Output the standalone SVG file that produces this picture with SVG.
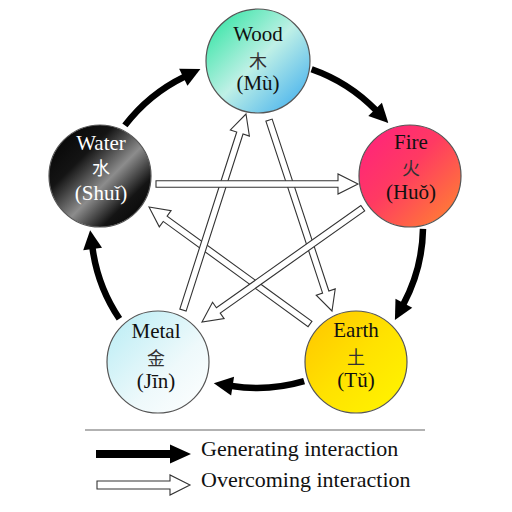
<svg xmlns="http://www.w3.org/2000/svg" width="512" height="512" viewBox="0 0 512 512">
<defs>
<linearGradient id="gWood" x1="0" y1="0" x2="1" y2="1"><stop offset="0" stop-color="#1fe39a"/><stop offset="0.5" stop-color="#bff0e6"/><stop offset="1" stop-color="#34a8ef"/></linearGradient>
<linearGradient id="gFire" x1="0" y1="0" x2="1" y2="1"><stop offset="0" stop-color="#ff1f80"/><stop offset="0.45" stop-color="#ff3a62"/><stop offset="1" stop-color="#ff8a2c"/></linearGradient>
<linearGradient id="gWater" x1="0" y1="0" x2="1" y2="1"><stop offset="0" stop-color="#000"/><stop offset="0.32" stop-color="#141414"/><stop offset="0.56" stop-color="#8c8c8c"/><stop offset="0.76" stop-color="#141414"/><stop offset="1" stop-color="#000"/></linearGradient>
<linearGradient id="gMetal" x1="0" y1="0" x2="1" y2="1"><stop offset="0" stop-color="#b6ecf4"/><stop offset="0.6" stop-color="#eef9fb"/><stop offset="1" stop-color="#ffffff"/></linearGradient>
<linearGradient id="gEarth" x1="0" y1="0" x2="1" y2="1"><stop offset="0" stop-color="#ffc400"/><stop offset="0.5" stop-color="#ffe200"/><stop offset="0.85" stop-color="#fff000"/><stop offset="1" stop-color="#ffe600"/></linearGradient>
<marker id="head" markerUnits="userSpaceOnUse" markerWidth="22" markerHeight="22" viewBox="-2 -11 22 22" refX="0" refY="0" orient="auto"><path d="M-1,-9.5 L18,0 L-1,9.5 Z" fill="#000"/></marker>
<style>
.node{stroke:#555;stroke-width:1.2}
.lab{font-family:"Liberation Serif",serif;font-size:21px;text-anchor:middle;fill:#111}
.cjk{font-family:"Noto Sans CJK SC",sans-serif;font-size:18px;text-anchor:middle;fill:#333}
.white{fill:#fff}
.gen{fill:none;stroke:#000;stroke-width:6.5;marker-end:url(#head)}
.ovc{fill:#fff;stroke:#333;stroke-width:1.1;stroke-linejoin:miter}
.leg{font-family:"Liberation Serif",serif;font-size:22px;fill:#111}
</style>
</defs>
<rect width="512" height="512" fill="#fff"/>
<g id="connectors">
<path class="gen" d="M124.9,125.4 A166,166 0 0 1 184.2,76.8"/>
<path class="gen" d="M311.6,69.2 A166,166 0 0 1 375.8,110.1"/>
<path class="gen" d="M423,228.9 A166,166 0 0 1 403.4,304.2"/>
<path class="gen" d="M304.1,381.2 A166,166 0 0 1 231.6,386"/>
<path class="gen" d="M119.4,318.8 A166,166 0 0 1 92.5,248"/>
<path class="ovc" transform="translate(332,311) rotate(-108.26)" d="M0,0 L20,-10 V-3.3 H201 V3.3 H20 V10 Z"/>
<path class="ovc" transform="translate(149,207) rotate(36)" d="M0,0 L20,-10 V-3.3 H199 V3.3 H20 V10 Z"/>
<path class="ovc" transform="translate(246,114) rotate(107.82)" d="M0,0 L20,-10 V-3.3 H206 V3.3 H20 V10 Z"/>
<path class="ovc" transform="translate(202,322) rotate(-35.3)" d="M0,0 L20,-10 V-3.3 H197 V3.3 H20 V10 Z"/>
<path class="ovc" transform="translate(358,184) rotate(180)" d="M0,0 L20,-10 V-3.3 H202 V3.3 H20 V10 Z"/>
</g>
<g id="wood"><circle class="node" cx="258" cy="61" r="52" fill="url(#gWood)"/><text class="lab" x="258" y="41">Wood</text><text class="cjk" x="258" y="68">木</text><text class="lab" x="258" y="90">(Mù)</text></g>
<g id="fire"><circle class="node" cx="410" cy="176" r="51" fill="url(#gFire)"/><text class="lab" x="411" y="149">Fire</text><text class="cjk" x="411" y="175">火</text><text class="lab" x="411" y="199">(Huǒ)</text></g>
<g id="water"><circle class="node" cx="100" cy="176" r="51" fill="url(#gWater)"/><text class="lab white" x="101" y="150">Water</text><text class="cjk white" x="101" y="175">水</text><text class="lab white" x="101" y="200">(Shuǐ)</text></g>
<g id="metal"><circle class="node" cx="158" cy="362" r="51" fill="url(#gMetal)"/><text class="lab" x="156" y="338">Metal</text><text class="cjk" x="156" y="365">金</text><text class="lab" x="156" y="388">(Jīn)</text></g>
<g id="earth"><circle class="node" cx="356" cy="362" r="51" fill="url(#gEarth)"/><text class="lab" x="356" y="337">Earth</text><text class="cjk" x="356" y="364">土</text><text class="lab" x="356" y="387">(Tǔ)</text></g>
<g id="legend">
<line x1="85" y1="430" x2="425" y2="430" stroke="#999" stroke-width="1.6"/>
<path d="M96,450 H170 V444.5 L191,454 L170,463.5 V458 H96 Z" fill="#000"/>
<path class="ovc" d="M97,481 H170 V475 L190,485 L170,495 V489 H97 Z"/>
<text class="leg" x="201" y="456">Generating interaction</text>
<text class="leg" x="201" y="487">Overcoming interaction</text>
</g>
</svg>
